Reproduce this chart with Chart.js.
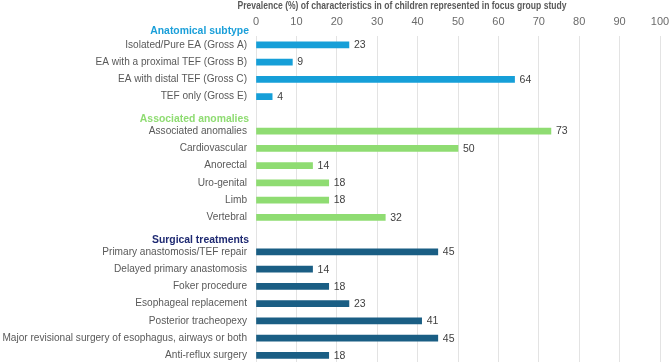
<!DOCTYPE html>
<html>
<head>
<meta charset="utf-8">
<title>Prevalence of characteristics</title>
<script src="https://cdn.jsdelivr.net/npm/chart.js@4"></script>
<style>
  html, body { margin: 0; padding: 0; background: #fff; overflow: hidden; }
  #wrap { position: relative; width: 669px; height: 364px; }
</style>
</head>
<body>
<div id="wrap"><canvas id="prevalenceChart"></canvas></div>
<script>
// Data
const anatomicalLabels = ["Isolated/Pure EA (Gross A)", "EA with a proximal TEF (Gross B)", "EA with distal TEF (Gross C)", "TEF only (Gross E)"];
const anatomicalValues = [23, 9, 64, 4];

const anomalyLabels = ["Associated anomalies", "Cardiovascular", "Anorectal", "Uro-genital", "Limb", "Vertebral"];
const anomalyValues = [73, 50, 14, 18, 18, 32];

const surgicalLabels = ["Primary anastomosis/TEF repair", "Delayed primary anastomosis", "Foker procedure", "Esophageal replacement", "Posterior tracheopexy", "Major revisional surgery of esophagus, airways or both", "Anti-reflux surgery"];
const surgicalValues = [45, 14, 18, 23, 41, 45, 18];

const groupTitles = ["Anatomical subtype", "Associated anomalies", "Surgical treatments"];
const xTicks = [0, 10, 20, 30, 40, 50, 60, 70, 80, 90, 100];

const groupColors = ["#169fd8", "#8fdc72", "#1a5e84"];
const headerColors = ["#1a9fd9", "#8fdc72", "#1f2a72"];

// Build the category list with an empty slot between groups
const groups = [
  { labels: anatomicalLabels, values: anatomicalValues },
  { labels: anomalyLabels, values: anomalyValues },
  { labels: surgicalLabels, values: surgicalValues },
];
const labels = [];
const values = [];
const colors = [];
const groupStart = [];
groups.forEach((g, gi) => {
  if (gi > 0) {
    labels.push("");
    values.push(null);
    colors.push("transparent");
  }
  groupStart.push(labels.length);
  g.labels.forEach((l, i) => {
    labels.push(l);
    values.push(g.values[i]);
    colors.push(groupColors[gi]);
  });
});

// Title, group headers and value labels
const extrasPlugin = {
  id: "extras",
  afterDraw(chart) {
    const ctx = chart.ctx;
    const yScale = chart.scales.y;
    const xScale = chart.scales.x;
    ctx.save();

    ctx.font = "bold 10px 'Liberation Sans', sans-serif";
    ctx.fillStyle = "#595959";
    ctx.textAlign = "center";
    ctx.textBaseline = "middle";
    ctx.fillText("Prevalence (%) of characteristics in of children represented in focus group study", 402, 6, 329);

    ctx.font = "bold 10.4px 'Liberation Sans', sans-serif";
    ctx.textAlign = "right";
    groupTitles.forEach((t, gi) => {
      ctx.fillStyle = headerColors[gi];
      const off = gi === 0 ? 14 : 12;
      ctx.fillText(t, 249, yScale.getPixelForValue(groupStart[gi]) - off);
    });

    ctx.font = "10.5px 'Liberation Sans', sans-serif";
    ctx.fillStyle = "#404040";
    ctx.textAlign = "left";
    values.forEach((v, i) => {
      if (v === null) return;
      ctx.fillText(v, xScale.getPixelForValue(v) + 5, yScale.getPixelForValue(i) + 0.5);
    });
    ctx.restore();
  },
};

const chartCtx = document.getElementById("prevalenceChart").getContext("2d");
const prevalenceChart = new Chart(chartCtx, {
  type: "bar",
  data: {
    labels: labels,
    datasets: [
      {
        data: values,
        backgroundColor: colors,
        barThickness: 6,
        borderWidth: 0,
      },
    ],
  },
  options: {
    indexAxis: "y",
    responsive: true,
    maintainAspectRatio: false,
    animation: false,
    layout: {
      padding: { top: 7, right: 9, bottom: 0, left: 0 },
    },
    plugins: {
      legend: { display: false },
      tooltip: { enabled: false },
    },
    scales: {
      x: {
        position: "top",
        min: 0,
        max: 100,
        afterBuildTicks(scale) {
          scale.ticks = xTicks.map((v) => ({ value: v }));
        },
        afterFit(scale) {
          scale.paddingLeft = 0;
          scale.paddingRight = 0;
        },
        grid: { color: "#e3e3e3", drawTicks: false },
        border: { display: false },
        ticks: {
          padding: 8,
          color: "#6b6b6b",
          font: { family: "'Liberation Sans', sans-serif", size: 11 },
        },
      },
      y: {
        afterFit(scale) {
          scale.width = 256;
          scale.paddingTop = 0;
          scale.paddingBottom = 0;
        },
        grid: { display: false, drawTicks: false },
        border: { display: false },
        ticks: {
          padding: 9,
          color: "#595959",
          autoSkip: false,
          font: { family: "'Liberation Sans', sans-serif", size: 10.1 },
        },
      },
    },
  },
  plugins: [extrasPlugin],
});
</script>
</body>
</html>
